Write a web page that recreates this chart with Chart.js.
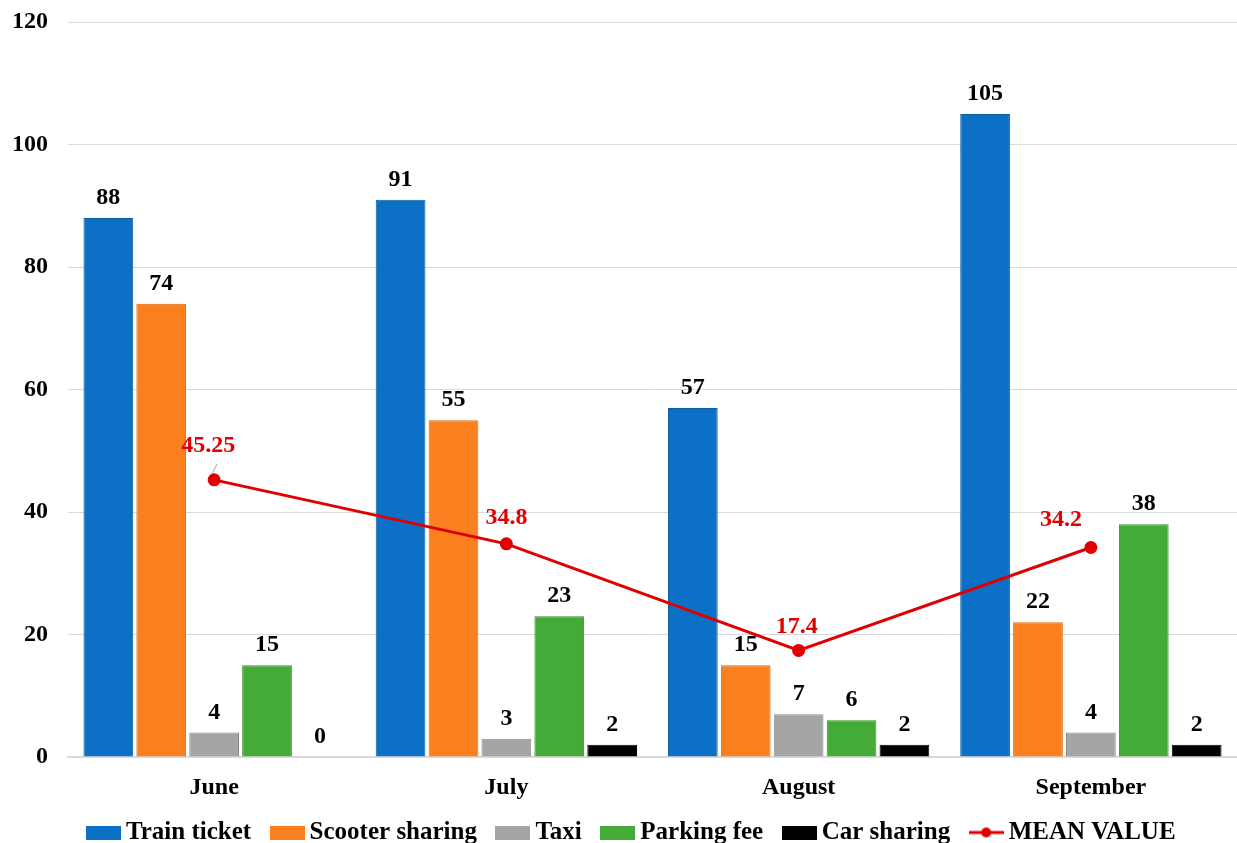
<!DOCTYPE html>
<html lang="en">
<head>
<meta charset="UTF-8">
<title>Monthly expenses</title>
<script src="https://cdn.jsdelivr.net/npm/chart.js"></script>
<style>
  html, body { margin: 0; padding: 0; background: #fff; }
  #box { width: 1237px; height: 843px; }
</style>
</head>
<body>
<div id="box"><canvas id="chart"></canvas></div>
<script>
// data
var months = ['June', 'July', 'August', 'September'];
var trainTicket = [88, 91, 57, 105];
var scooterSharing = [74, 55, 15, 22];
var taxi = [4, 3, 7, 4];
var parkingFee = [15, 23, 6, 38];
var carSharing = [0, 2, 2, 2];
var meanValue = [45.25, 34.8, 17.4, 34.2];
var yTicks = [0, 20, 40, 60, 80, 100, 120];

var FONT = '"Liberation Serif", "Times New Roman", serif';

// label offsets for the mean line (dx, dy from the point)
var meanLabelOffset = [[-6, -34], [0, -26], [-2, -24], [-30, -28]];

function barSet(label, data, fill, edge) {
    return {
        type: 'bar',
        label: label,
        data: data,
        backgroundColor: fill,
        borderColor: edge,
        borderWidth: 1,
        categoryPercentage: 0.905,
        barPercentage: 0.94,
        order: 1
    };
}

// legend icons drawn on small canvases
function makeIcon(color, isLine) {
    var cv = document.createElement('canvas');
    cv.width = 35; cv.height = 14;
    var c = cv.getContext('2d');
    c.fillStyle = color;
    c.strokeStyle = color;
    if (isLine) {
        c.lineWidth = 3;
        c.beginPath(); c.moveTo(0, 7); c.lineTo(35, 7); c.stroke();
        c.beginPath(); c.arc(17.5, 7, 5, 0, Math.PI * 2); c.fill();
    } else {
        c.fillRect(0, 0, 35, 14);
    }
    return cv;
}

var valueLabels = {
    id: 'valueLabels',
    afterDatasetsDraw: function (chart) {
        var ctx = chart.ctx;
        ctx.save();
        ctx.textAlign = 'center';
        ctx.textBaseline = 'middle';
        ctx.font = 'bold 24px ' + FONT;
        chart.data.datasets.forEach(function (ds, i) {
            var meta = chart.getDatasetMeta(i);
            meta.data.forEach(function (el, j) {
                var v = ds.data[j];
                if (ds.type === 'line') {
                    var off = meanLabelOffset[j];
                    if (j === 0) {
                        ctx.strokeStyle = '#a6a6a6';
                        ctx.lineWidth = 1;
                        ctx.beginPath();
                        ctx.moveTo(el.x + 3, el.y - 16);
                        ctx.lineTo(el.x - 2, el.y - 6);
                        ctx.stroke();
                    }
                    ctx.fillStyle = '#e00000';
                    ctx.fillText(String(v), el.x + off[0], el.y + off[1]);
                } else {
                    ctx.fillStyle = '#000';
                    ctx.fillText(String(v), el.x, el.y - 20);
                }
            });
        });
        ctx.restore();
    }
};

// move the legend a little, like in the original picture
var legendShift = {
    id: 'legendShift',
    afterLayout: function (chart) {
        var lg = chart.legend;
        var dy = 794 - lg.top;
        lg.top += dy; lg.bottom += dy;
        lg.left += 14; lg.right += 14;
    }
};

new Chart(document.getElementById('chart'), {
    type: 'bar',
    data: {
        labels: months,
        datasets: [
            barSet('Train ticket', trainTicket, '#0b70c6', '#0a5ea6'),
            barSet('Scooter sharing', scooterSharing, '#f97f1f', '#d96a12'),
            barSet('Taxi', taxi, '#a5a5a5', '#8a8a8a'),
            barSet('Parking fee', parkingFee, '#44ab38', '#36902c'),
            barSet('Car sharing', carSharing, '#000000', '#000000'),
            {
                type: 'line',
                label: 'MEAN VALUE',
                data: meanValue,
                borderColor: '#e00000',
                backgroundColor: '#e00000',
                borderWidth: 3,
                pointRadius: 5,
                pointBackgroundColor: '#e00000',
                pointBorderColor: '#e00000',
                tension: 0,
                order: 0
            }
        ]
    },
    options: {
        responsive: true,
        maintainAspectRatio: false,
        animation: false,
        layout: { autoPadding: false, padding: { top: 0, right: -4, left: 0, bottom: -17 } },
        plugins: {
            tooltip: { enabled: false },
            legend: {
                position: 'bottom',
                labels: {
                    usePointStyle: true,
                    pointStyleWidth: 20,
                    boxHeight: 14,
                    padding: 26,
                    color: '#000',
                    font: { family: FONT, size: 25, weight: 'bold' },
                    generateLabels: function (chart) {
                        return chart.data.datasets.map(function (ds, i) {
                            return {
                                text: ds.label,
                                fillStyle: ds.backgroundColor,
                                strokeStyle: ds.backgroundColor,
                                lineWidth: 0,
                                pointStyle: makeIcon(ds.backgroundColor, ds.type === 'line'),
                                datasetIndex: i
                            };
                        });
                    }
                }
            }
        },
        scales: {
            x: {
                grid: { display: false, drawTicks: false },
                border: { display: true, color: '#d9d9d9', width: 2 },
                afterFit: function (axis) {
                    axis.height = 42;
                    axis.paddingLeft = 0;
                    axis.paddingRight = 0;
                },
                ticks: {
                    color: '#000',
                    padding: 16,
                    font: { family: FONT, size: 24, weight: 'bold' }
                }
            },
            y: {
                min: 0,
                max: 120,
                afterBuildTicks: function (axis) {
                    axis.ticks = yTicks.map(function (v) { return { value: v }; });
                },
                afterFit: function (axis) {
                    axis.width = 68;
                    axis.paddingTop = 22;
                },
                grid: { color: '#d9d9d9', lineWidth: 1, drawTicks: false },
                border: { display: false },
                ticks: {
                    color: '#000',
                    padding: 20,
                    font: { family: FONT, size: 24, weight: 'bold' }
                }
            }
        }
    },
    plugins: [valueLabels, legendShift]
});
</script>
</body>
</html>
